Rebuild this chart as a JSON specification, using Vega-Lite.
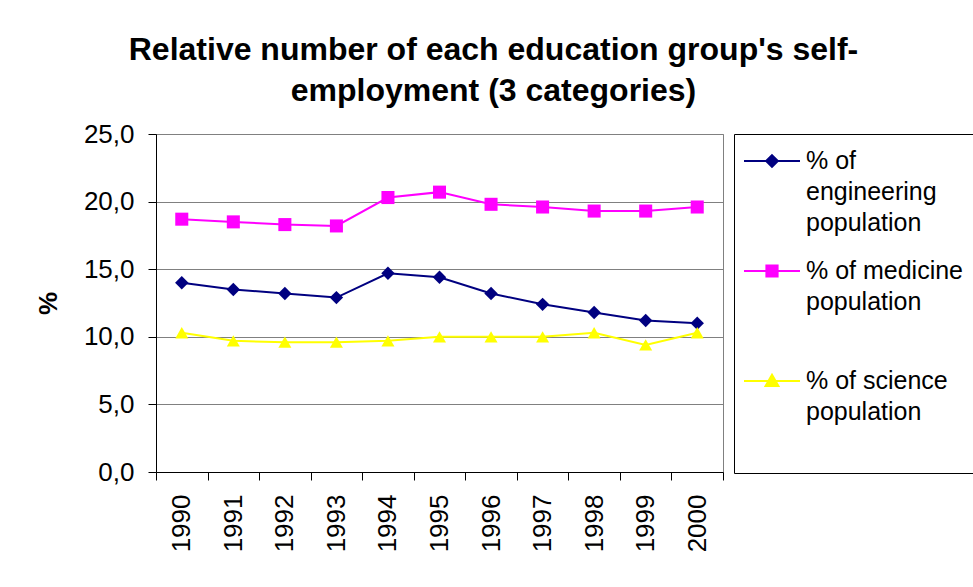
{
  "$schema": "https://vega.github.io/schema/vega-lite/v6.json",
  "autosize": "none",
  "width": 567,
  "height": 338,
  "padding": {"left": 156, "top": 134, "right": 250, "bottom": 115},
  "background": "white",
  "title": {
    "text": ["Relative number of each education group's self-", "employment (3 categories)"],
    "fontSize": 32,
    "fontWeight": "bold",
    "font": "Liberation Sans",
    "color": "black",
    "anchor": "middle",
    "frame": "group",
    "dx": 54,
    "lineHeight": 41,
    "offset": 13
  },
  "data": {
    "values": [
      {"year": "1990", "series": "% of engineering population", "value": 14.0},
      {"year": "1991", "series": "% of engineering population", "value": 13.5},
      {"year": "1992", "series": "% of engineering population", "value": 13.2},
      {"year": "1993", "series": "% of engineering population", "value": 12.9},
      {"year": "1994", "series": "% of engineering population", "value": 14.7},
      {"year": "1995", "series": "% of engineering population", "value": 14.4},
      {"year": "1996", "series": "% of engineering population", "value": 13.2},
      {"year": "1997", "series": "% of engineering population", "value": 12.4},
      {"year": "1998", "series": "% of engineering population", "value": 11.8},
      {"year": "1999", "series": "% of engineering population", "value": 11.2},
      {"year": "2000", "series": "% of engineering population", "value": 11.0},
      {"year": "1990", "series": "% of medicine population", "value": 18.7},
      {"year": "1991", "series": "% of medicine population", "value": 18.5},
      {"year": "1992", "series": "% of medicine population", "value": 18.3},
      {"year": "1993", "series": "% of medicine population", "value": 18.2},
      {"year": "1994", "series": "% of medicine population", "value": 20.3},
      {"year": "1995", "series": "% of medicine population", "value": 20.7},
      {"year": "1996", "series": "% of medicine population", "value": 19.8},
      {"year": "1997", "series": "% of medicine population", "value": 19.6},
      {"year": "1998", "series": "% of medicine population", "value": 19.3},
      {"year": "1999", "series": "% of medicine population", "value": 19.3},
      {"year": "2000", "series": "% of medicine population", "value": 19.6},
      {"year": "1990", "series": "% of science population", "value": 10.3},
      {"year": "1991", "series": "% of science population", "value": 9.7},
      {"year": "1992", "series": "% of science population", "value": 9.6},
      {"year": "1993", "series": "% of science population", "value": 9.6},
      {"year": "1994", "series": "% of science population", "value": 9.7},
      {"year": "1995", "series": "% of science population", "value": 10.0},
      {"year": "1996", "series": "% of science population", "value": 10.0},
      {"year": "1997", "series": "% of science population", "value": 10.0},
      {"year": "1998", "series": "% of science population", "value": 10.3},
      {"year": "1999", "series": "% of science population", "value": 9.4},
      {"year": "2000", "series": "% of science population", "value": 10.3}
    ]
  },
  "encoding": {
    "x": {
      "field": "year",
      "type": "ordinal",
      "bandPosition": 0.5,
      "scale": {"type": "band", "paddingInner": 0, "paddingOuter": 0},
      "axis": {
        "title": null,
        "labelAngle": 270,
        "labelFont": "Liberation Sans",
        "labelFontSize": 26,
        "labelColor": "black",
        "labelPadding": 14,
        "tickBand": "extent",
        "tickSize": 8,
        "tickColor": "black",
        "domainColor": "black",
        "grid": false
      }
    },
    "y": {
      "field": "value",
      "type": "quantitative",
      "scale": {"domain": [0, 25], "nice": false},
      "axis": {
        "title": "%",
        "titleFont": "Liberation Sans",
        "titleFontSize": 26,
        "titleFontWeight": "bold",
        "titleColor": "black",
        "titlePadding": 22,
        "values": [0, 5, 10, 15, 20, 25],
        "labelExpr": "replace(format(datum.value, '.1f'), '.', ',')",
        "labelFont": "Liberation Sans",
        "labelFontSize": 26,
        "labelColor": "black",
        "labelPadding": 14,
        "tickSize": 8,
        "tickColor": "black",
        "domainColor": "black",
        "grid": true,
        "gridColor": "#808080"
      }
    }
  },
  "layer": [
    {
      "mark": {"type": "line", "strokeWidth": 2},
      "encoding": {
        "color": {
          "field": "series",
          "type": "nominal",
          "scale": {
            "domain": ["% of engineering population", "% of medicine population", "% of science population"],
            "range": ["#000080", "#FF00FF", "#FFFF00"]
          },
          "legend": {
            "title": " ",
            "titleOrient": "bottom",
            "titleFontSize": 20,
            "titlePadding": 16,
            "orient": "none",
            "legendX": 578,
            "legendY": 0,
            "padding": 12,
            "strokeColor": "black",
            "fillColor": "white",
            "gridAlign": "all",
            "rowPadding": 20,
            "symbolSize": 784,
            "symbolStrokeWidth": 2,
            "symbolOffset": 11,
            "labelOffset": 19,
            "labelFont": "Liberation Sans",
            "labelFontSize": 25,
            "labelColor": "black",
            "labelLimit": 400,
            "labelBaseline": "middle",
            "labelExpr": "datum.label == '% of engineering population' ? ['% of', 'engineering', 'population'] : datum.label == '% of medicine population' ? ['% of medicine', 'population'] : ['% of science', 'population']",
            "encode": {
              "symbols": {
                "update": {
                  "shape": {"signal": "datum.value == '% of engineering population' ? 'M-2,0L2,0M0,-0.42L0.42,0L0,0.42L-0.42,0Z' : datum.value == '% of medicine population' ? 'M-2,0L2,0M-0.4,-0.4L0.4,-0.4L0.4,0.4L-0.4,0.4Z' : 'M-2,0L2,0M0,-0.45L0.46,0.36L-0.46,0.36Z'"},
                  "fill": {"signal": "datum.value == '% of engineering population' ? '#000080' : datum.value == '% of medicine population' ? '#FF00FF' : '#FFFF00'"},
                  "fillOpacity": {"value": 1}
                }
              },
              "labels": {
                "update": {"lineHeight": {"value": 31}}
              }
            }
          }
        }
      }
    },
    {
      "transform": [{"filter": "datum.series == '% of engineering population'"}],
      "mark": {"type": "point", "filled": true, "opacity": 1, "shape": "diamond", "color": "#000080", "size": 180}
    },
    {
      "transform": [{"filter": "datum.series == '% of medicine population'"}],
      "mark": {"type": "point", "filled": true, "opacity": 1, "shape": "square", "color": "#FF00FF", "size": 170}
    },
    {
      "transform": [{"filter": "datum.series == '% of science population'"}],
      "mark": {"type": "point", "filled": true, "opacity": 1, "shape": "triangle-up", "color": "#FFFF00", "size": 170}
    }
  ],
  "config": {
    "view": {"stroke": "#808080", "strokeWidth": 1},
    "font": "Liberation Sans"
  }
}
